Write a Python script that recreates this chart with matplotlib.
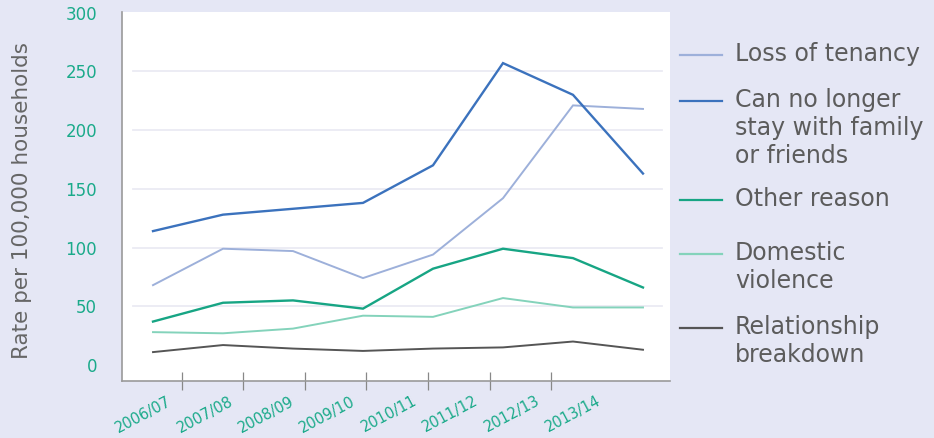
import numpy as np
import matplotlib.pyplot as plt
from matplotlib.lines import Line2D

# values (rate per 100,000 households)
years = ['2006/07', '2007/08', '2008/09', '2009/10',
         '2010/11', '2011/12', '2012/13', '2013/14']
loss_of_tenancy = [68, 99, 97, 74, 94, 142, 221, 218]
no_longer_stay = [114, 128, 133, 138, 170, 257, 230, 163]
other_reason = [37, 53, 55, 48, 82, 99, 91, 66]
domestic_violence = [28, 27, 31, 42, 41, 57, 49, 49]
relationship_breakdown = [11, 17, 14, 12, 14, 15, 20, 13]

series = [
    ('Loss of tenancy', loss_of_tenancy, '#9db0da', 1.4),
    ('Can no longer\nstay with family\nor friends', no_longer_stay, '#3b72bd', 1.7),
    ('Other reason', other_reason, '#17a584', 1.7),
    ('Domestic\nviolence', domestic_violence, '#84d3bb', 1.4),
    ('Relationship\nbreakdown', relationship_breakdown, '#555555', 1.4),
]

bg = '#e5e7f5'
teal = '#1aaa8a'
grey_text = '#5c5c5c'

fig = plt.figure(figsize=(9.34, 4.38), dpi=100, facecolor=bg)
ax = fig.add_axes([122 / 934, 1 - 381 / 438, 548 / 934, 369 / 438])
ax.set_facecolor('white')

x = np.arange(len(years))
for label, vals, col, lw in series:
    ax.plot(x, vals, color=col, lw=lw, solid_joinstyle='miter')

ax.set_xlim(-0.443, 7.386)
ax.set_ylim(-13.6, 300.5)

# y axis
ax.set_yticks([0, 50, 100, 150, 200, 250, 300])
ax.tick_params(axis='y', length=0, pad=18, labelcolor=teal, labelsize=12)
for v in [50, 100, 150, 200, 250]:
    ax.axhline(v, xmin=0.02, xmax=0.985, color='#ebebf3', lw=1.3, zorder=0)
ax.set_ylabel('Rate per 100,000 households', color='#666666', fontsize=15.5)
ax.yaxis.set_label_coords(-0.165, 0.49)

# x axis: labels and ticks are offset from the data points in the original
label_pos = 0.2 + 0.876 * np.arange(len(years))
tick_pos = 0.41 + 0.88 * np.arange(len(years) - 1)
ax.set_xticks(label_pos)
ax.set_xticklabels(years, rotation=28, ha='right', va='top',
                   rotation_mode='anchor')
ax.set_xticks(tick_pos, minor=True)
ax.tick_params(axis='x', which='major', length=0, pad=9, labelcolor=teal,
               labelsize=10.5)
ax.tick_params(axis='x', which='minor', direction='inout', length=13,
               color='#888888', width=0.9)

for s in ['top', 'right']:
    ax.spines[s].set_visible(False)
for s in ['left', 'bottom']:
    ax.spines[s].set_color('#9a9a9a')
    ax.spines[s].set_linewidth(1.2)

# legend drawn by hand so the key line sits on the first text line
legend_y = [55, 101, 200, 254, 328]
for (label, vals, col, lw), yy in zip(series, legend_y):
    yf = 1 - yy / 438
    fig.add_artist(Line2D([680 / 934, 722 / 934], [yf, yf], color=col, lw=1.6))
    fig.text(735 / 934, yf + 13 / 438, label, color=grey_text, fontsize=17,
             va='top', ha='left', linespacing=1.2)

fig.savefig('out.png', dpi=100, facecolor=bg)
